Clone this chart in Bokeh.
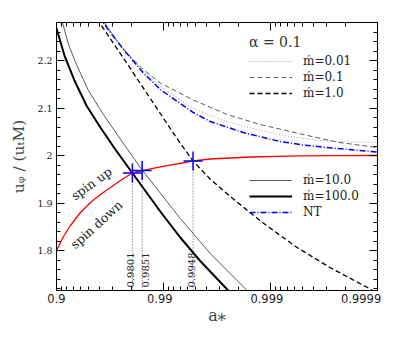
import numpy as np
from bokeh.plotting import figure
from bokeh.models import Range1d, FixedTicker, LinearAxis, Legend, LegendItem, Label
from bokeh.embed import file_html
from bokeh.resources import INLINE

# x coordinate: lg = -log10(1 - a*)   (0.9 -> 1, 0.99 -> 2, 0.999 -> 3, 0.9999 -> 4)
x_tick_vals = [1, 2, 3, 4]
x_tick_text = ["0.9", "0.99", "0.999", "0.9999"]
y_tick_vals = [1.8, 1.9, 2.0, 2.1, 2.2]
y_tick_text = ["1.8", "1.9", "2", "2.1", "2.2"]

# mdot = 100 (thick black)
m100_lg = [0.9813, 1.0, 1.0746, 1.1679, 1.2799, 1.4104, 1.5504, 1.7090, 1.9701, 2.1567, 2.3433, 2.6045, 2.6978]
m100_v = [2.2821, 2.2674, 2.2105, 2.1579, 2.1053, 2.0589, 2.0126, 1.9632, 1.8821, 1.8274, 1.7779, 1.7158, 1.6947]

# mdot = 10 (thin grey)
m10_lg = [1.0280, 1.0560, 1.1119, 1.1866, 1.2985, 1.4384, 1.6157, 1.8004, 2.1567, 2.4366, 2.7817, 2.8750]
m10_v = [2.3011, 2.2800, 2.2337, 2.1916, 2.1368, 2.0863, 2.0284, 1.9695, 1.8674, 1.7937, 1.7158, 1.6968]

# mdot = 1.0 (black dashed)
m1_lg = [1.3358, 1.4011, 1.5970, 1.7836, 1.9701, 2.1194, 2.2761, 2.4366, 2.6231, 2.9310, 3.2481, 3.5560, 3.9571, 4.1157]
m1_v = [2.3011, 2.2800, 2.2147, 2.1516, 2.0884, 2.0379, 1.9884, 1.9505, 1.9137, 1.8579, 1.8063, 1.7642, 1.7158, 1.7011]

# mdot = 0.1 (grey dashed)
m01_lg = [1.4104, 1.4478, 1.5504, 1.6716, 1.8116, 1.9701, 2.2780, 2.5951, 2.9030, 3.3041, 3.6213, 3.9944, 4.1157]
m01_v = [2.2947, 2.2802, 2.2453, 2.2118, 2.1808, 2.1526, 2.1168, 2.0863, 2.0653, 2.0442, 2.0282, 2.0168, 2.0137]

# mdot = 0.01 (light grey dotted)
m001_lg = [1.4104, 1.4478, 1.6222, 1.8088, 1.9701, 2.2780, 2.5951, 2.9030, 3.1828, 3.4627, 3.7425, 3.9944, 4.1157]
m001_v = [2.2926, 2.2789, 2.2253, 2.1779, 2.1453, 2.0989, 2.0705, 2.0526, 2.0400, 2.0316, 2.0284, 2.0280, 2.0280]

# NT (blue dash-dot)
nt_lg = [1.3918, 1.4356, 1.5224, 1.6222, 1.8088, 1.9701, 2.2780, 2.4366, 2.7444, 3.0896, 3.3041, 3.6213, 3.9944, 4.1157]
nt_v = [2.2926, 2.2800, 2.2537, 2.2242, 2.1747, 2.1389, 2.0905, 2.0716, 2.0484, 2.0295, 2.0221, 2.0147, 2.0074, 2.0057]

# red spin-equilibrium curve
red_lg = [1.0, 1.0653, 1.1306, 1.2239, 1.3172, 1.4104, 1.5037, 1.5970, 1.7090, 1.8004, 1.9701, 2.2761, 2.4366, 2.8097, 3.2761, 3.6493, 4.0]
red_v = [1.8, 1.8295, 1.8526, 1.8800, 1.9011, 1.9179, 1.9326, 1.9474, 1.9632, 1.9684, 1.9762, 1.9884, 1.9926, 1.9968, 1.9992, 1.9998, 2.0]

# crossing markers
mark_lg = [1.709, 1.8004, 2.2761]
mark_v = [1.9632, 1.9684, 1.9884]
mark_text = ["0.9801", "0.9851", "0.9948"]

Y0, Y1 = 1.7158, 2.28

p = figure(width=399, height=338, x_range=Range1d(1, 4), y_range=Range1d(Y0, Y1),
           output_backend="svg", toolbar_location=None,
           min_border_left=56, min_border_right=22, min_border_top=22, min_border_bottom=48)
p.xgrid.visible = False
p.ygrid.visible = False
p.outline_line_color = "black"
p.outline_line_width = 1

x_minor = [k - np.log10(m) for k in (2, 3, 4) for m in range(2, 10)]
y_minor = list(np.round(np.arange(1.72, 2.281, 0.02), 2))
xt = FixedTicker(ticks=x_tick_vals, minor_ticks=x_minor)
yt = FixedTicker(ticks=y_tick_vals, minor_ticks=y_minor)


def style(ax, ticker):
    ax.ticker = ticker
    ax.major_tick_in = 8
    ax.major_tick_out = 0
    ax.minor_tick_in = 4
    ax.minor_tick_out = 0
    ax.axis_line_color = "black"
    ax.major_tick_line_color = "black"
    ax.minor_tick_line_color = "black"


xa = p.xaxis[0]
style(xa, xt)
nb = "\u00a0"
xa.major_label_overrides = {1: "0.9", 2: "0.99" + nb * 2, 3: "0.999" + nb * 2, 4: "0.9999" + nb * 5}
xa.major_label_text_font = "DejaVu Sans"
xa.major_label_text_font_size = "11.5px"
xa.major_label_text_color = "#222222"
xa.major_label_standoff = 1
xa.axis_label = "a\u204e"
xa.axis_label_text_font = "DejaVu Serif"
xa.axis_label_text_font_style = "normal"
xa.axis_label_text_font_size = "16px"
xa.axis_label_standoff = -3

ya = p.yaxis[0]
style(ya, yt)
ya.major_label_overrides = dict(zip(y_tick_vals, y_tick_text))
ya.major_label_text_font = "DejaVu Serif"
ya.major_label_text_font_size = "9.5px"
ya.major_label_text_color = "#222222"
ya.major_label_standoff = 4
ya.axis_label = "u\u1d69 / (u\u209cM)"
ya.axis_label_text_font = "DejaVu Serif"
ya.axis_label_text_font_style = "normal"
ya.axis_label_text_font_size = "15.5px"
ya.axis_label_standoff = 6

top = LinearAxis()
style(top, xt)
top.major_label_text_color = None
top.major_label_text_alpha = 0
top.major_label_text_font_size = "8px"
top.major_label_standoff = 0
p.add_layout(top, "above")
right = LinearAxis()
style(right, yt)
right.major_label_text_color = None
right.major_label_text_alpha = 0
right.major_label_text_font_size = "8px"
right.major_label_standoff = 0
p.add_layout(right, "right")

r001 = p.line(m001_lg, m001_v, line_color="#a0a0a0", line_width=1, line_dash="1 2")
r01 = p.line(m01_lg, m01_v, line_color="#5a5a5a", line_width=1, line_dash="5 3")
r1 = p.line(m1_lg, m1_v, line_color="black", line_width=1.3, line_dash="5 3")
r10 = p.line(m10_lg, m10_v, line_color="#5a5a5a", line_width=1)
r100 = p.line(m100_lg, m100_v, line_color="black", line_width=2)
rnt = p.line(nt_lg, nt_v, line_color="#0000ff", line_width=1.5, line_dash="6 2 1 2")
p.line(red_lg, red_v, line_color="#ff0000", line_width=1.3)

p.segment(x0=mark_lg, y0=[Y0] * 3, x1=mark_lg, y1=mark_v, line_color="#555555",
          line_width=1, line_dash="1 2")
p.scatter(mark_lg, mark_v, marker="cross", size=19, line_color="#0000ff", line_width=1.5)

left_idx = [0, 2]
p.text(x=[mark_lg[i] for i in left_idx], y=[Y0] * 2, text=[mark_text[i] for i in left_idx],
       angle=np.pi / 2, text_align="left", text_baseline="alphabetic",
       x_offset=-1.5, y_offset=-3, text_font_size="10px", text_font={"value": "DejaVu Serif"},
       text_color="#222222")
p.text(x=[mark_lg[1]], y=[Y0], text=[mark_text[1]],
       angle=np.pi / 2, text_align="left", text_baseline="top",
       x_offset=0, y_offset=-3, text_font_size="10px", text_font={"value": "DejaVu Serif"},
       text_color="#222222")

p.add_layout(Label(x=1.3265, y=1.9411, text="spin up", angle=0.62, text_align="center",
                   text_baseline="middle", text_font="DejaVu Serif", text_font_size="12.5px",
                   text_color="#222222"))
p.add_layout(Label(x=1.373, y=1.8547, text="spin down", angle=0.733, text_align="center",
                   text_baseline="middle", text_font="DejaVu Serif", text_font_size="12.5px",
                   text_color="#222222"))


def make_legend(items, loc, title=None):
    lg = Legend(items=items, location=loc, glyph_width=43, glyph_height=16, label_height=16,
                spacing=0, padding=0, margin=0, label_standoff=11,
                label_text_font="DejaVu Serif", label_text_font_size="12px",
                label_text_color="#222222",
                background_fill_alpha=0, border_line_alpha=0)
    if title:
        lg.title = title
        lg.title_text_font = "DejaVu Serif"
        lg.title_text_font_size = "14px"
        lg.title_text_font_style = "normal"
        lg.title_text_color = "#333333"
        lg.title_standoff = 3
    return lg


leg1 = make_legend([LegendItem(label="\u1e41=0.01", renderers=[r001]),
                    LegendItem(label="\u1e41=0.1", renderers=[r01]),
                    LegendItem(label="\u1e41=1.0", renderers=[r1])], (193, 189), "\u03b1 = 0.1")
leg2 = make_legend([LegendItem(label="\u1e41=10.0", renderers=[r10]),
                    LegendItem(label="\u1e41=100.0", renderers=[r100]),
                    LegendItem(label="NT", renderers=[rnt])], (193, 70))
p.add_layout(leg1)
p.add_layout(leg2)

open("out.html", "w").write(file_html(p, INLINE))
